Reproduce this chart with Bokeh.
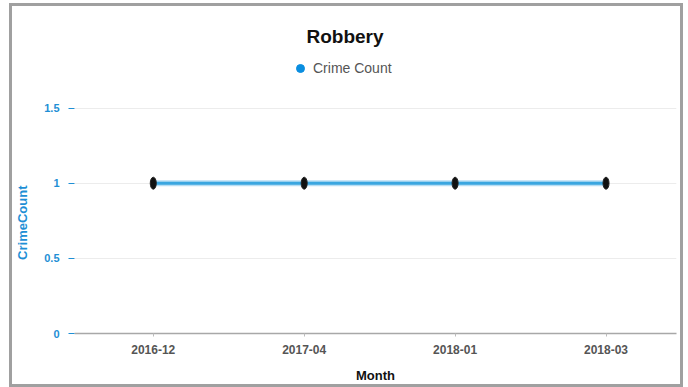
from bokeh.plotting import figure
from bokeh.models import (Range1d, FixedTicker, Legend, LegendItem, ColumnDataSource)
from bokeh.embed import file_html
from bokeh.resources import INLINE

# ---- data ----
months = ["2016-12", "2017-04", "2018-01", "2018-03"]
crime_count = [1, 1, 1, 1]
y_ticks = [0, 0.5, 1, 1.5]
title_text = "Robbery"
series_name = "Crime Count"
x_label = "Month"
y_label = "CrimeCount"

idx = list(range(len(months)))
src = ColumnDataSource(dict(x=idx, y=crime_count))

p = figure(width=674, height=384, output_backend="svg", toolbar_location=None,
           x_range=Range1d(-0.522, 3.467), y_range=Range1d(0, 1.883),
           min_border_left=60, min_border_right=10, min_border_top=44,
           min_border_bottom=57)
p.styles = {"border": "3px solid #a0a0a0", "position": "relative",
            "left": "9px", "top": "3px"}
p.outline_line_color = None
p.background_fill_color = "white"
p.border_fill_color = "white"

p.title.text = title_text
p.title.align = "left"
p.title.offset = 232
p.title.text_font = "Liberation Sans"
p.title.text_font_size = "19px"
p.title.text_font_style = "bold"
p.title.text_color = "#111111"
p.title.standoff = 8

# line with halo
p.line("x", "y", source=src, line_color="#a6d6f1", line_width=6, line_alpha=0.8)
p.line("x", "y", source=src, line_color="#3aa6e0", line_width=3)
p.ellipse("x", "y", source=src, width=6, height=12, width_units="screen",
          height_units="screen", fill_color="#111111", line_color="#222222")
leg_r = p.scatter("x", "y", source=src, size=0, fill_color="#0a8ee0",
                  line_color="#0a8ee0", marker="circle")

legend = Legend(items=[LegendItem(label=series_name, renderers=[leg_r])],
                location=(216, 255), orientation="horizontal",
                border_line_color=None, background_fill_alpha=0,
                padding=0, margin=0, glyph_width=20, glyph_height=20,
                label_text_font="Liberation Sans", label_text_font_size="14px",
                label_text_color="#555555", label_standoff=3)
p.add_layout(legend, "center")

# x axis
xa = p.xaxis[0]
xa.ticker = FixedTicker(ticks=idx)
xa.major_label_overrides = {i: m for i, m in zip(idx, months)}
xa.minor_tick_line_color = None
xa.major_tick_in = 0
xa.major_tick_out = 3
xa.major_tick_line_color = "#bbbbbb"
xa.axis_line_color = "#a8a8a8"
xa.axis_line_width = 1.5
xa.major_label_standoff = 8
xa.major_label_text_font = "Liberation Sans"
xa.major_label_text_font_size = "12px"
xa.major_label_text_font_style = "bold"
xa.major_label_text_color = "#555555"
xa.axis_label = x_label
xa.axis_label_standoff = 11
xa.axis_label_text_font = "Liberation Sans"
xa.axis_label_text_font_size = "13px"
xa.axis_label_text_font_style = "bold"
xa.axis_label_text_color = "#111111"

# y axis (label padded with no-break spaces so it sits centred on 0..1.5)
ya = p.yaxis[0]
ya.ticker = FixedTicker(ticks=y_ticks)
ya.major_label_overrides = {1: "1", 0: "0"}
ya.minor_tick_line_color = None
ya.axis_line_color = None
ya.major_tick_in = 0
ya.major_tick_out = 6
ya.major_tick_line_color = "#1e8fd5"
ya.major_label_standoff = 9
ya.major_label_text_font = "Liberation Sans"
ya.major_label_text_font_size = "11px"
ya.major_label_text_font_style = "bold"
ya.major_label_text_color = "#1e8fd5"
ya.axis_label = y_label + "\u00a0" * 17
ya.axis_label_standoff = 11
ya.axis_label_text_font = "Liberation Sans"
ya.axis_label_text_font_size = "13px"
ya.axis_label_text_font_style = "bold"
ya.axis_label_text_color = "#1e8fd5"

p.xgrid.grid_line_color = None
p.ygrid.grid_line_color = "#ececec"
p.ygrid.ticker = FixedTicker(ticks=y_ticks)

open("out.html", "w").write(file_html(p, INLINE))
